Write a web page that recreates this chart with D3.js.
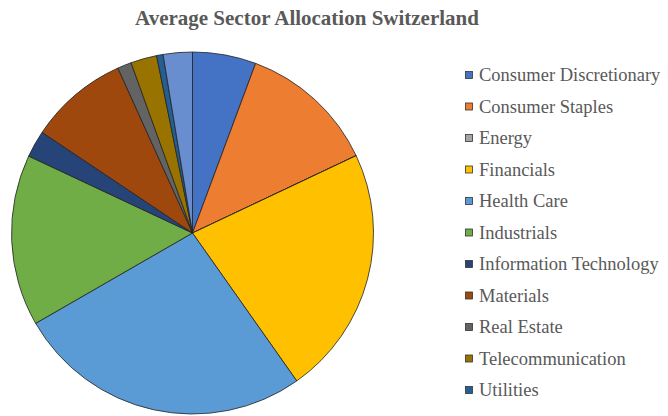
<!DOCTYPE html>
<html>
<head>
<meta charset="utf-8">
<script src="https://cdn.jsdelivr.net/npm/d3@7"></script>
<style>
  body { margin: 0; background: #fff; }
  text { font-family: "Liberation Serif", "Times New Roman", serif; fill: #595959; }
</style>
</head>
<body>
<div id="chart"></div>
<script>
const w = 668;
const h = 416;

// sector shares in percent (Energy slice is empty)
const sectors = ["Consumer Discretionary", "Consumer Staples", "Energy", "Financials", "Health Care",
  "Industrials", "Information Technology", "Materials", "Real Estate", "Telecommunication", "Utilities", "Other"];
const shares = [5.67, 12.3, 0, 22.25, 26.45, 15.3, 2.4, 8.85, 1.25, 2.33, 0.58, 2.6];
const colors = ["#4472C4", "#ED7D31", "#A5A5A5", "#FFC000", "#5B9BD5", "#70AD47",
  "#264478", "#9E480E", "#636363", "#997300", "#255E91", "#698ED0"];
// the last slice has no legend entry in the original
const legendCount = 11;

const cx = 192.5, cy = 233, r = 181;

const svg = d3.select("#chart")
  .append("svg")
  .attr("width", w)
  .attr("height", h);

svg.append("text")
  .attr("x", 307)
  .attr("y", 25)
  .attr("text-anchor", "middle")
  .style("font-size", "21px")
  .style("font-weight", "bold")
  .text("Average Sector Allocation Switzerland");

const pie = d3.pie().sort(null).value(d => d);
const arc = d3.arc().innerRadius(0).outerRadius(r);

const g = svg.append("g").attr("transform", "translate(" + cx + "," + cy + ")");

g.selectAll("path")
  .data(pie(shares))
  .enter()
  .append("path")
  .attr("d", arc)
  .attr("fill", (d, i) => colors[i])
  .attr("stroke", "#222")
  .attr("stroke-width", 0.8)
  .attr("stroke-linejoin", "round");

const legend = svg.append("g");
const rowY = d3.scaleLinear().domain([0, legendCount - 1]).range([75, 390]);

const item = legend.selectAll("g")
  .data(sectors.slice(0, legendCount))
  .enter()
  .append("g")
  .attr("transform", (d, i) => "translate(0," + rowY(i) + ")");

item.append("rect")
  .attr("x", 465.5)
  .attr("y", -3.5)
  .attr("width", 7)
  .attr("height", 7)
  .attr("fill", (d, i) => colors[i])
  .attr("stroke", "#333")
  .attr("stroke-width", 0.8);

item.append("text")
  .attr("x", 479)
  .attr("y", 6)
  .style("font-size", "18.5px")
  .text(d => d);
</script>
</body>
</html>
